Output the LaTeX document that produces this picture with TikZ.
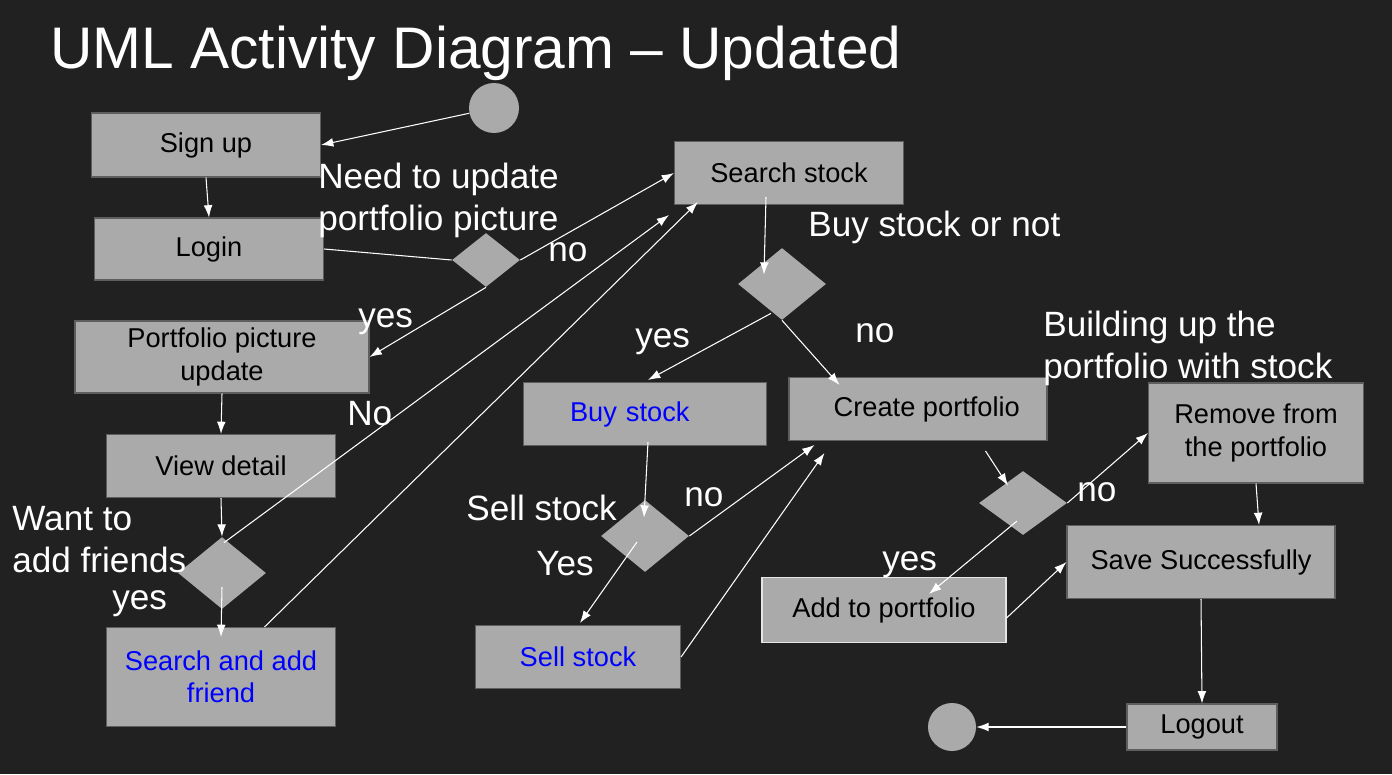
\documentclass[tikz,border=0pt]{standalone}
\usepackage{fontspec}
\setmainfont{Liberation Sans}
\usepackage{xcolor}
\usepackage{tikz}
\usetikzlibrary{shapes.geometric, arrows.meta, calc}
\definecolor{bg}{HTML}{212121}
\definecolor{actfill}{HTML}{AAAAAA}
\definecolor{actline}{HTML}{5E5E5E}
\definecolor{linkblue}{HTML}{0000FF}

\begin{document}
\begin{tikzpicture}[x=0.02cm, y=-0.02cm,
    act/.style={rectangle, draw=actline, fill=actfill, line width=0.6pt, align=center,
                font=\fontsize{15.5}{18.5}\selectfont, inner sep=2pt},
    sz/.style 2 args={minimum width=#1*0.02cm, minimum height=#2*0.02cm},
    dec/.style={diamond, fill=actfill, inner sep=0pt},
    dot/.style={circle, fill=actfill, inner sep=0pt, minimum size=1cm},
    lbl/.style={text=white, font=\fontsize{20}{23.5}\selectfont, align=left, inner sep=0pt},
    arr/.style={-{Latex[length=7pt, width=5pt]}, white, line width=0.6pt},
    ln/.style={white, line width=0.6pt},
]
    \useasboundingbox (0,0) rectangle (1392,774);
    \fill[bg] (0,0) rectangle (1392,774);

    \node[lbl, font=\fontsize{33.4}{40}\selectfont, anchor=base west] (title) at (50,68) {UML Activity Diagram – Updated};

    % activities
    \node[dot] (start) at (494,108) {};
    \node[act, sz={229}{64}] (signup) at (206,145) {Sign up};
    \node[act, sz={229}{62}] (login) at (209,249) {Login};
    \node[act, sz={294}{72}] (picupd) at (222,357) {Portfolio picture\\update};
    \node[act, sz={229}{63}] (detail) at (221,466) {View detail};
    \node[act, sz={229}{99}, text=linkblue] (addfr) at (221,677) {Search and add\\friend};
    \node[act, sz={229}{63}] (search) at (789,173) {Search stock};
    \node[act, sz={243}{63}, text=linkblue, text width=150*0.02cm, align=left] (buy) at (645,414) {Buy stock};
    \node[act, sz={258}{63}] (create) at (918,409) {\hspace*{10pt}Create portfolio};
    \node[act, sz={205}{63}, text=linkblue] (sell) at (578,657) {Sell stock};
    \node[act, sz={244}{65}, draw=white!90!black] (addp) at (884,610) {Add to portfolio};
    \node[act, sz={215}{100}] (remove) at (1256,433) {Remove from\\the portfolio};
    \node[act, sz={268}{73}] (save) at (1201,562) {Save Successfully};
    \node[act, sz={150}{46}] (logout) at (1202,727) {Logout};
    \node[dot, minimum size=0.96cm] (stop) at (952,727) {};

    % decisions
    \node[dec, sz={68}{54}] (dpic) at (486,260) {};
    \node[dec, sz={88}{72}] (dfriend) at (222,573) {};
    \node[dec, sz={88}{72}] (dbuy) at (782,284) {};
    \node[dec, sz={88}{72}] (dsell) at (645,536) {};
    \node[dec, sz={88}{64}] (dbuild) at (1023,503) {};

    % flows
    \draw[arr] (start.192) -- (signup.east);
    \draw[arr] (signup.south) -- (login.north);
    \draw[ln] (login.east) -- (dpic.west);
    \draw[arr] (dpic.east) -- (search.west);
    \draw[arr] (dpic.south) -- (picupd.east);
    \draw[arr] (picupd.south) -- (detail.north);
    \draw[arr] (detail.south) -- (dfriend.north);
    \draw[arr] ($(dfriend.north)+(2,6)$) -- ($(search.south west)+(-5,10)$);
    \draw[arr] ($(dfriend.center)+(0,14)$) -- ($(addfr.north)+(0,10)$);
    \draw[arr] (addfr.49) -- ($(search.south west)+(24,-3)$);
    \draw[arr] ($(search.south)+(-23,-8)$) -- ($(dbuy.north)+(-18,27)$);
    \draw[arr] ($(dbuy.south)+(-11,-7)$) -- ($(buy.north)+(3,-2)$);
    \draw[arr] (dbuy.south) -- ($(create.north west)+(51,8)$);
    \draw[arr] ($(buy.south)+(3,-4)$) -- ($(dsell.north)+(-1,18)$);
    \draw[arr] (dsell.east) -- ($(create.south west)+(26,4)$);
    \draw[arr] ($(dsell.center)+(-8,6)$) -- ($(sell.north)+(2,-2)$);
    \draw[arr] (sell.east) -- ($(create.south west)+(36,12)$);
    \draw[arr] ($(create.south east)+(-62,10)$) -- ($(dbuild.north)+(-15,15)$);
    \draw[arr] (dbuild.east) -- (remove.west);
    \draw[arr] ($(dbuild.center)+(-6,18)$) -- ($(addp.north)+(45,17)$);
    \draw[arr] ($(addp.east)+(0,8)$) -- (save.west);
    \draw[arr] (remove.south) -- ($(save.north)+(58,0)$);
    \draw[arr] (save.south) -- (logout.north);
    \draw[arr] (logout.west) -- (stop.east);

    % guards and notes
    \node[lbl, anchor=base west] (qpic) at (318,230) {Need to update\\portfolio picture};
    \node[lbl, anchor=base west] (nopic) at (548,261) {no};
    \node[lbl, anchor=base west] (yespic) at (358,327) {yes};
    \node[lbl, anchor=base west] (nofr) at (347,425) {No};
    \node[lbl, anchor=base west] (qfr) at (12,572) {Want to\\add friends};
    \node[lbl, anchor=base west] (yesfr) at (112,609) {yes};
    \node[lbl, anchor=base west] (qbuy) at (808,236) {Buy stock or not};
    \node[lbl, anchor=base west] (yesbuy) at (635,347) {yes};
    \node[lbl, anchor=base west] (nobuy) at (855,342) {no};
    \node[lbl, anchor=base west] (qbuild) at (1043,378) {Building up the\\portfolio with stock};
    \node[lbl, anchor=base west] (qsell) at (466,520) {Sell stock};
    \node[lbl, anchor=base west] (nosell) at (684,506) {no};
    \node[lbl, anchor=base west] (yessell) at (536,575) {Yes};
    \node[lbl, anchor=base west] (yesbuild) at (882,570) {yes};
    \node[lbl, anchor=base west] (nobuild) at (1077,501) {no};
\end{tikzpicture}
\end{document}
